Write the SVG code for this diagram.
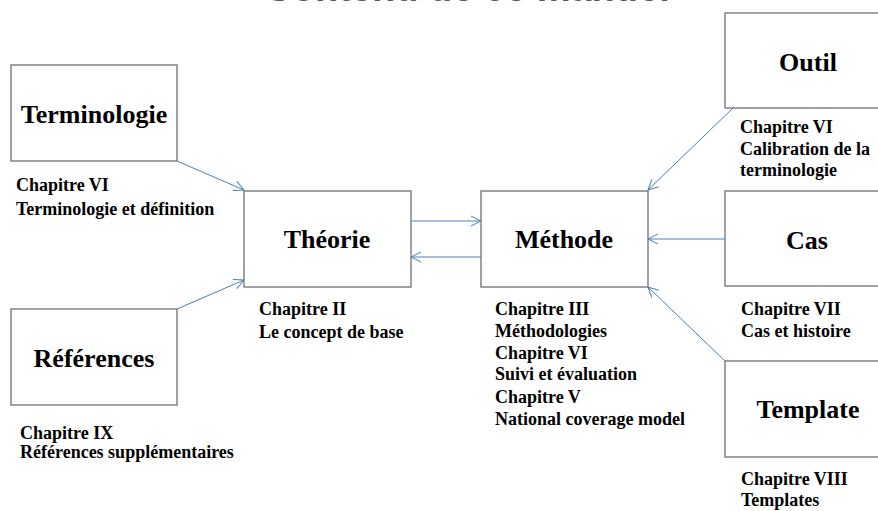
<svg xmlns="http://www.w3.org/2000/svg" width="878" height="511" viewBox="0 0 878 511">
<defs>
<style>
.box{fill:#fff;stroke:#7a7a7a;stroke-width:1.4}
.title{font-family:"Liberation Serif","Times New Roman",serif;font-weight:bold;font-size:26px;fill:#000;text-anchor:middle}
.lbl{font-family:"Liberation Serif","Times New Roman",serif;font-weight:bold;font-size:18px;fill:#000}
.head{font-family:"Liberation Sans",Arial,sans-serif;font-weight:bold;font-size:38px;fill:#595959;text-anchor:middle}
.conn{stroke:#4a7ebb;stroke-width:1;fill:none;marker-end:url(#arr)}
</style>
<marker id="arr" viewBox="0 0 12 12" refX="11" refY="6" markerWidth="12" markerHeight="12" markerUnits="userSpaceOnUse" orient="auto">
<path d="M1,1 L11,6 L1,11" fill="none" stroke="#4a7ebb" stroke-width="1"/>
</marker>
</defs>
<rect width="878" height="511" fill="#fff"/>
<text class="head" x="467" y="1">Contenu de ce manuel</text>
<g id="connectors">
<line class="conn" x1="177" y1="161" x2="244" y2="190"/>
<line class="conn" x1="177" y1="309" x2="244" y2="280"/>
<line class="conn" x1="411" y1="221" x2="481" y2="221"/>
<line class="conn" x1="481" y1="257" x2="411" y2="257"/>
<line class="conn" x1="733" y1="108" x2="648" y2="190"/>
<line class="conn" x1="725" y1="239" x2="648" y2="239"/>
<line class="conn" x1="725" y1="361" x2="648" y2="287"/>
</g>
<g id="terminologie">
<rect class="box" x="11" y="65" width="166" height="96"/>
<text class="title" x="94" y="123">Terminologie</text>
<text class="lbl" x="16" y="191">Chapitre VI</text>
<text class="lbl" x="16" y="215">Terminologie et définition</text>
</g>
<g id="references">
<rect class="box" x="11" y="309" width="166" height="96"/>
<text class="title" x="94" y="367">Références</text>
<text class="lbl" x="20" y="439">Chapitre IX</text>
<text class="lbl" x="20" y="458">Références supplémentaires</text>
</g>
<g id="theorie">
<rect class="box" x="244" y="191" width="167" height="96"/>
<text class="title" x="327" y="248">Théorie</text>
<text class="lbl" x="259" y="315">Chapitre II</text>
<text class="lbl" x="259" y="338">Le concept de base</text>
</g>
<g id="methode">
<rect class="box" x="481" y="191" width="167" height="96"/>
<text class="title" x="564" y="248">Méthode</text>
<text class="lbl" x="495" y="315">Chapitre III</text>
<text class="lbl" x="495" y="337">Méthodologies</text>
<text class="lbl" x="495" y="359">Chapitre VI</text>
<text class="lbl" x="495" y="380">Suivi et évaluation</text>
<text class="lbl" x="495" y="403">Chapitre V</text>
<text class="lbl" x="495" y="425">National coverage model</text>
</g>
<g id="outil">
<rect class="box" x="725" y="13" width="166" height="95"/>
<text class="title" x="808" y="71">Outil</text>
<text class="lbl" x="740" y="133">Chapitre VI</text>
<text class="lbl" x="740" y="155">Calibration de la</text>
<text class="lbl" x="740" y="176">terminologie</text>
</g>
<g id="cas">
<rect class="box" x="725" y="191" width="166" height="95"/>
<text class="title" x="807" y="249">Cas</text>
<text class="lbl" x="741" y="315">Chapitre VII</text>
<text class="lbl" x="741" y="337">Cas et histoire</text>
</g>
<g id="template">
<rect class="box" x="725" y="361" width="166" height="96"/>
<text class="title" x="808" y="418">Template</text>
<text class="lbl" x="741" y="485">Chapitre VIII</text>
<text class="lbl" x="741" y="506">Templates</text>
</g>
</svg>
